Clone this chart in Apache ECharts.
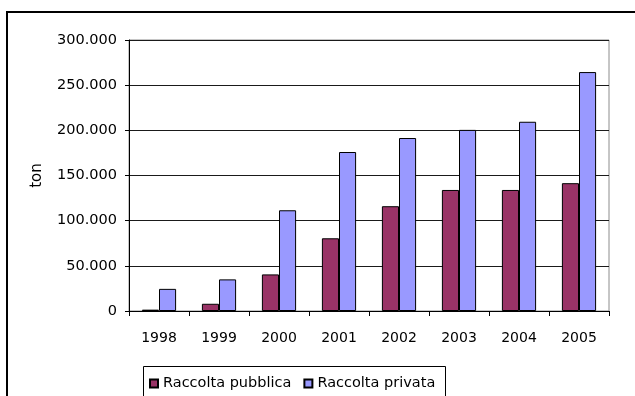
<!DOCTYPE html>
<html>
<head>
<meta charset="utf-8">
<title>Raccolta pubblica e privata</title>
<script src="https://cdn.jsdelivr.net/npm/echarts@6/dist/echarts.min.js"></script>
<style>
  html, body { margin: 0; padding: 0; background: #fff; }
  #chart { width: 635px; height: 396px; }
</style>
</head>
<body>
<div id="chart"></div>
<script>
// Years on the category axis
const years = ['1998', '1999', '2000', '2001', '2002', '2003', '2004', '2005'];
// Tonnes collected per year
const raccoltaPubblica = [1500, 8000, 40500, 80500, 116000, 134000, 134000, 141500];
const raccoltaPrivata = [24500, 35000, 111500, 176000, 191500, 200500, 209500, 264500];
// Value axis range
const yMin = 0;
const yMax = 300000;
const yStep = 50000;

const FONT = '"DejaVu Sans", Verdana, sans-serif';

// Italian thousands separator: 250000 -> 250.000
function fmtIt(v) {
  return String(v).replace(/\B(?=(\d{3})+(?!\d))/g, '.');
}

const chart = echarts.init(document.getElementById('chart'), null, { renderer: 'canvas' });

chart.setOption({
  animation: false,
  backgroundColor: '#ffffff',
  textStyle: { fontFamily: FONT, color: '#000' },
  grid: {
    left: 129, top: 40, right: 26, bottom: 85,
    show: true, borderColor: '#8c8c8c', borderWidth: 1, backgroundColor: 'transparent'
  },
  graphic: [
    {
      type: 'rect', silent: true, z: -1,
      shape: { x: 7, y: 12, width: 700, height: 500 },
      style: { fill: 'none', stroke: '#000', lineWidth: 2 }
    },
    {
      type: 'rect', silent: true, z: -1,
      shape: { x: 143.5, y: 366.5, width: 302, height: 60 },
      style: { fill: 'none', stroke: '#000', lineWidth: 1 }
    }
  ],
  legend: {
    left: 149, top: 376, padding: 0,
    itemWidth: 8, itemHeight: 8, itemGap: 12,
    icon: 'rect',
    textStyle: { fontFamily: FONT, fontSize: 14.5, color: '#000' },
    data: ['Raccolta pubblica', 'Raccolta privata']
  },
  xAxis: {
    type: 'category',
    data: years,
    boundaryGap: true,
    axisLine: { show: true, lineStyle: { color: '#000', width: 1 } },
    axisTick: { show: true, alignWithLabel: false, length: 5, lineStyle: { color: '#000' } },
    axisLabel: { fontFamily: FONT, fontSize: 14, color: '#000', margin: 20 },
    splitLine: { show: false }
  },
  yAxis: {
    type: 'value',
    min: yMin, max: yMax, interval: yStep,
    name: 'ton',
    nameLocation: 'middle',
    nameRotate: 90,
    nameGap: 84,
    nameTextStyle: { fontFamily: FONT, fontSize: 15, color: '#000' },
    axisLine: { show: true, lineStyle: { color: '#000', width: 1 } },
    axisTick: { show: true, inside: false, length: 4, lineStyle: { color: '#000' } },
    axisLabel: { fontFamily: FONT, fontSize: 14.5, color: '#000', margin: 12, formatter: fmtIt },
    splitLine: { show: true, lineStyle: { color: '#1a1a1a', width: 1 } }
  },
  series: [
    {
      name: 'Raccolta pubblica',
      type: 'bar',
      data: raccoltaPubblica,
      barGap: '0%',
      barCategoryGap: '43%',
      itemStyle: { color: '#993366', borderColor: '#000', borderWidth: 1 }
    },
    {
      name: 'Raccolta privata',
      type: 'bar',
      data: raccoltaPrivata,
      barGap: '0%',
      barCategoryGap: '43%',
      itemStyle: { color: '#9999ff', borderColor: '#000', borderWidth: 1 }
    }
  ]
});
</script>
</body>
</html>
